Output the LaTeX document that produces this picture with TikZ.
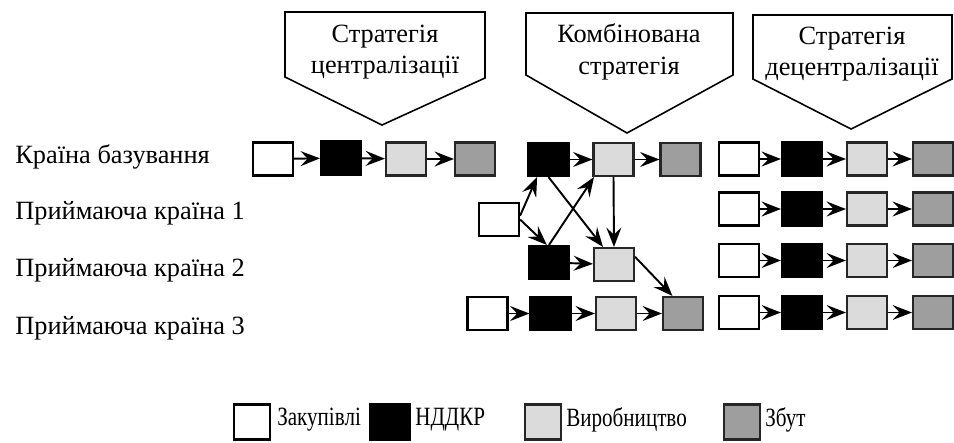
\documentclass[tikz,border=0pt]{standalone}
\usepackage{fontspec}
\setmainfont{Liberation Serif}
\usetikzlibrary{arrows.meta}

\begin{document}
\begin{tikzpicture}[x=0.02cm, y=-0.02cm,
    txt/.style={font=\fontsize{15}{18}\selectfont, inner sep=0pt},
    keytxt/.style={txt, xscale=0.8, transform shape},
    cell/.style={draw=black, line width=1.2pt, minimum width=0.8cm, minimum height=0.66cm, inner sep=0pt},
    purchase/.style={cell, fill=white},
    rnd/.style={cell, fill=black},
    prod/.style={cell, fill=black!14, draw=black!85},
    sales/.style={cell, fill=black!38, draw=black!85},
    flow/.style={-{Stealth[length=11pt,width=8.5pt,inset=4pt]}, line width=1.1pt},
    banner/.style={line width=0.9pt}]
  \useasboundingbox (0,0) rectangle (954,443);

  % ---------------- заголовки стратегій ----------------
  \draw[banner] (285,12) -- (485,12) -- (485,78) -- (382,125) -- (285,77) -- cycle;
  \node[txt, align=center] (hcent) at (385,52) {Стратегія\\централізації};

  \draw[banner] (526,13) -- (733,13) -- (733,75) -- (627,133) -- (526,75) -- cycle;
  \node[txt, align=center] (hcomb) at (629,52) {Комбінована\\стратегія};

  \draw[banner] (753,15) -- (952,15) -- (952,79) -- (851,129) -- (753,79) -- cycle;
  \node[txt, align=center] (hdec) at (852,54) {Стратегія\\децентралізації};

  % ---------------- країни ----------------
  \node[txt, anchor=west] (home) at (15,157) {Країна базування};
  \node[txt, anchor=west] (host1) at (15,213) {Приймаюча країна 1};
  \node[txt, anchor=west] (host2) at (15,270) {Приймаюча країна 2};
  \node[txt, anchor=west] (host3) at (15,328) {Приймаюча країна 3};

  % ---------------- централізація: усе в країні базування ----------------
  \node[purchase] (cw) at (273,159) {};
  \node[rnd] (cb) at (341,158) {};
  \node[prod] (cl) at (406,159) {};
  \node[sales] (cg) at (475,159) {};
  \draw[flow] (cw) -- (cb);
  \draw[flow] (cb) -- (cl);
  \draw[flow] (cl) -- (cg);

  % ---------------- комбінована стратегія ----------------
  \node[rnd] (mb1) at (548.5,159.5) {};
  \node[prod] (ml1) at (613.5,159.5) {};
  \node[sales] (mg1) at (680.5,159.5) {};
  \node[purchase] (mw2) at (499,219.5) {};
  \node[rnd] (mb3) at (549,262.5) {};
  \node[prod] (ml3) at (614,264.5) {};
  \node[purchase] (mw4) at (487.5,313.5) {};
  \node[rnd] (mb4) at (550.5,313.5) {};
  \node[prod] (ml4) at (616,313.5) {};
  \node[sales] (mg4) at (683,313.5) {};

  \draw[flow] (mb1) -- (ml1);
  \draw[flow] (ml1) -- (mg1);
  \draw[flow] (mw2.10) -- (mb1.237);
  \draw[flow] (mw2.east) -- (mb3.97);
  \draw[flow] (mb3.north) -- (ml1.222);
  \draw[flow] (mb1.south) -- (ml3.122);
  \draw[flow] (ml1.south) -- (ml3.north);
  \draw[flow] (mb3) -- (ml3);
  \draw[flow] (ml3.20) -- (mg4.121);
  \draw[flow] (mw4) -- (mb4);
  \draw[flow] (mb4) -- (ml4);
  \draw[flow] (ml4) -- (mg4);

  % ---------------- децентралізація: повний ланцюг у кожній країні ----------------
  \foreach \r/\y in {1/159, 2/209, 3/260.5, 4/312.5} {
    \node[purchase] (dw\r) at (739,\y) {};
    \node[rnd] (db\r) at (802,\y) {};
    \node[prod] (dl\r) at (867,\y) {};
    \node[sales] (dg\r) at (933,\y) {};
    \draw[flow] (dw\r) -- (db\r);
    \draw[flow] (db\r) -- (dl\r);
    \draw[flow] (dl\r) -- (dg\r);
  }

  % ---------------- легенда ----------------
  \node[purchase, minimum width=0.72cm, minimum height=0.7cm] (kw) at (252,422) {};
  \node[keytxt, anchor=west] (kwt) at (277,420) {Закупівлі};
  \node[rnd, minimum width=0.8cm, minimum height=0.7cm] (kb) at (390,422) {};
  \node[keytxt, anchor=west] (kbt) at (415,420) {НДДКР};
  \node[prod, minimum width=0.72cm, minimum height=0.7cm] (kl) at (543,422) {};
  \node[keytxt, anchor=west] (klt) at (566,420) {Виробництво};
  \node[sales, minimum width=0.72cm, minimum height=0.7cm] (kg) at (742,422) {};
  \node[keytxt, anchor=west] (kgt) at (765,420) {Збут};
\end{tikzpicture}
\end{document}
